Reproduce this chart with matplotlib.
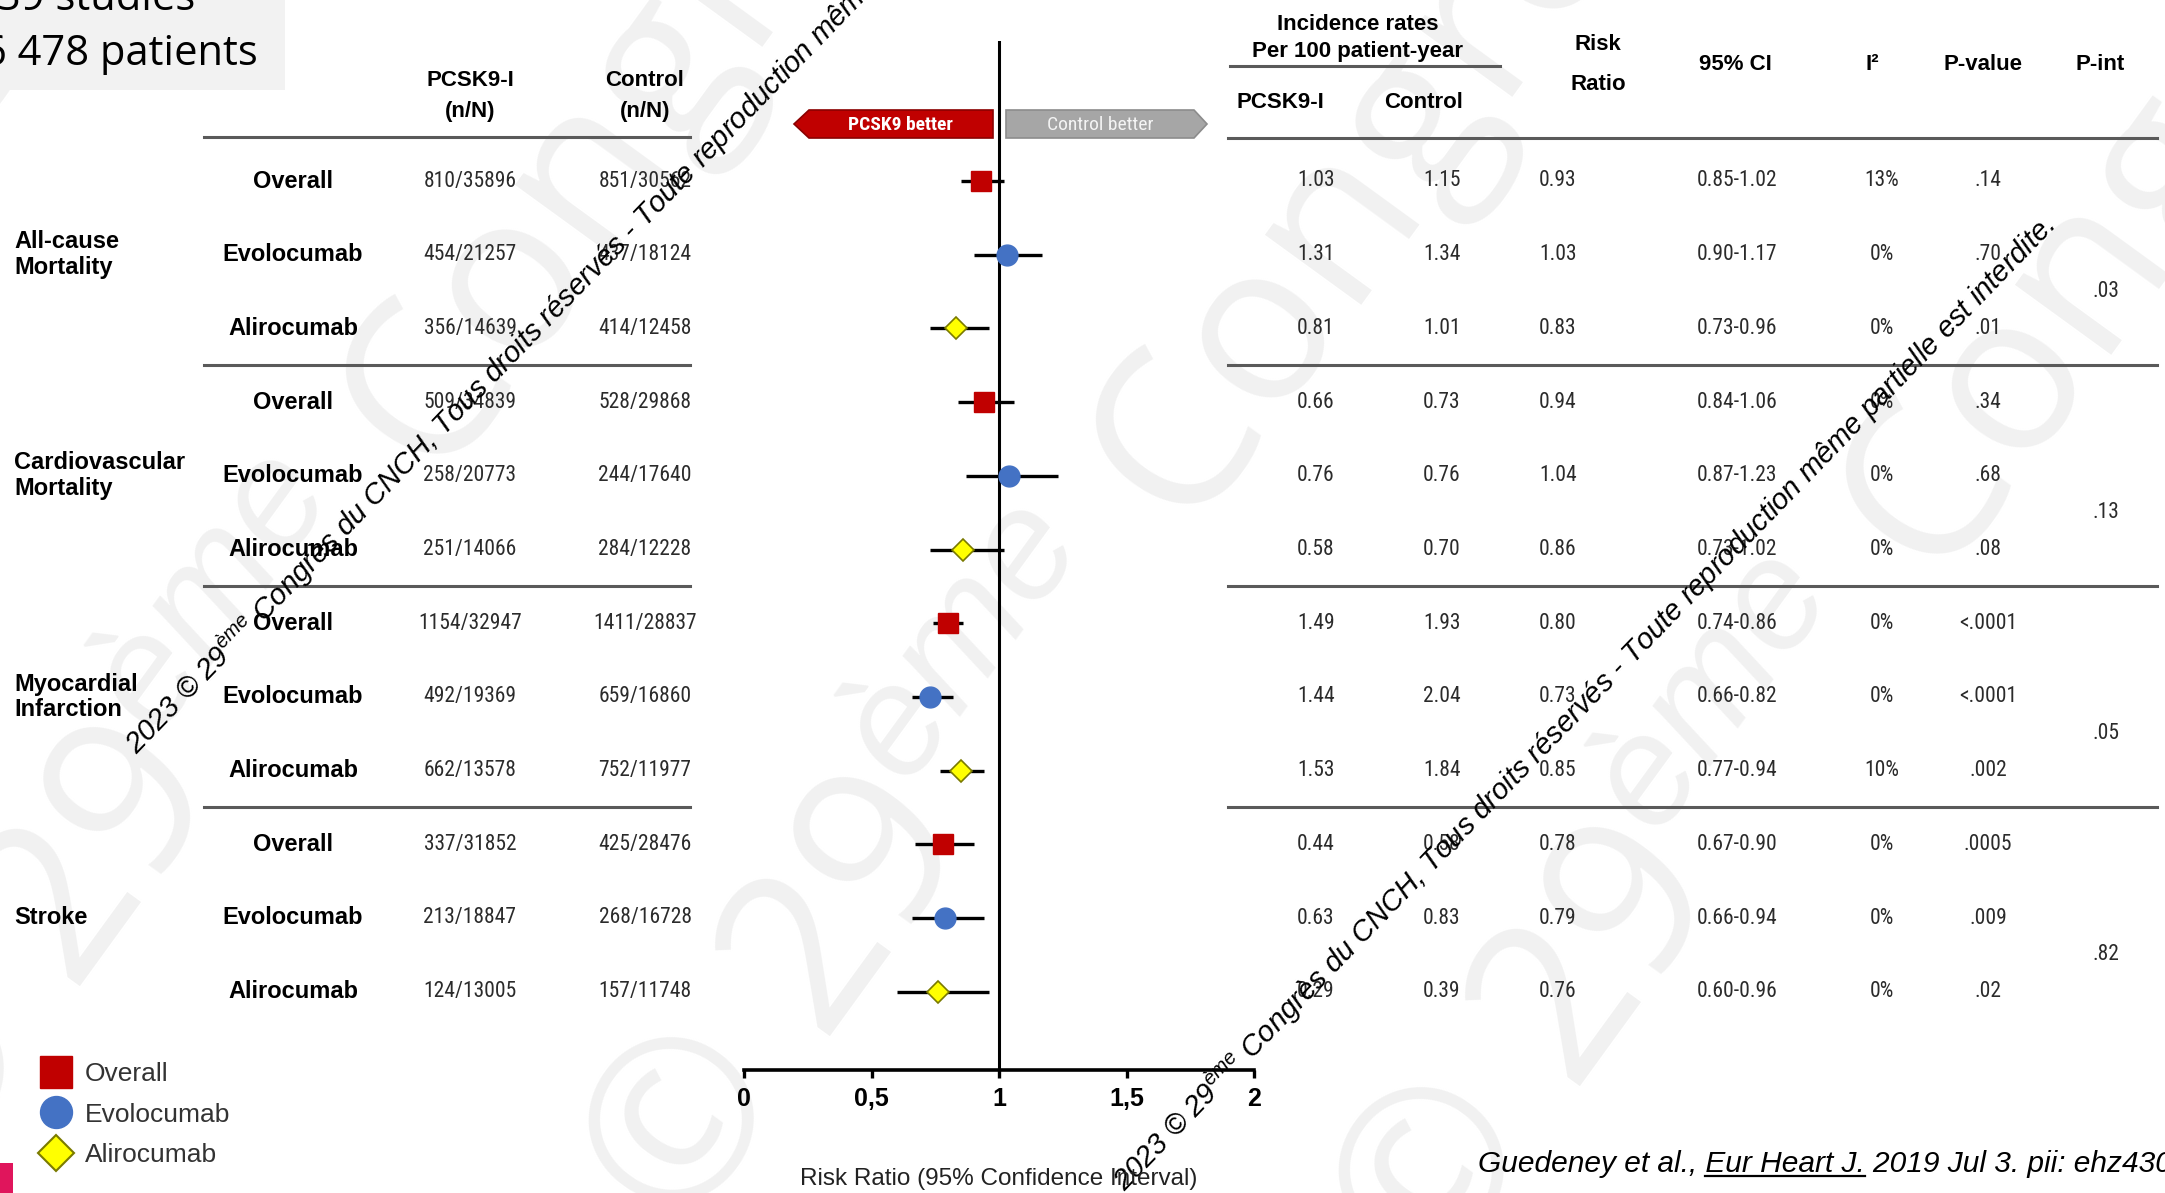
import matplotlib
matplotlib.use("Agg")
import matplotlib.pyplot as plt
from matplotlib import font_manager
from matplotlib.font_manager import FontProperties
from matplotlib.lines import Line2D
from matplotlib.patches import Polygon, Rectangle

# ---- data -------------------------------------------------------------
groups = ["All-cause\nMortality", "Cardiovascular\nMortality",
          "Myocardial\nInfarction", "Stroke"]
drugs = ["Overall", "Evolocumab", "Alirocumab"]

pcsk9_nN = ["810/35896", "454/21257", "356/14639",
            "509/34839", "258/20773", "251/14066",
            "1154/32947", "492/19369", "662/13578",
            "337/31852", "213/18847", "124/13005"]
control_nN = ["851/30562", "437/18124", "414/12458",
              "528/29868", "244/17640", "284/12228",
              "1411/28837", "659/16860", "752/11977",
              "425/28476", "268/16728", "157/11748"]
rate_pcsk9 = [1.03, 1.31, 0.81, 0.66, 0.76, 0.58, 1.49, 1.44, 1.53, 0.44, 0.63, 0.29]
rate_control = [1.15, 1.34, 1.01, 0.73, 0.76, 0.70, 1.93, 2.04, 1.84, 0.58, 0.83, 0.39]
rr = [0.93, 1.03, 0.83, 0.94, 1.04, 0.86, 0.80, 0.73, 0.85, 0.78, 0.79, 0.76]
ci_lo = [0.85, 0.90, 0.73, 0.84, 0.87, 0.73, 0.74, 0.66, 0.77, 0.67, 0.66, 0.60]
ci_hi = [1.02, 1.17, 0.96, 1.06, 1.23, 1.02, 0.86, 0.82, 0.94, 0.90, 0.94, 0.96]
i2 = ["13%", "0%", "0%", "0%", "0%", "0%", "0%", "0%", "10%", "0%", "0%", "0%"]
p_value = [".14", ".70", ".01", ".34", ".68", ".08",
           "<.0001", "<.0001", ".002", ".0005", ".009", ".02"]
p_int = [".03", ".13", ".05", ".82"]

xticks = [0, 0.5, 1, 1.5, 2]
xticklabels = ["0", "0,5", "1", "1,5", "2"]

# ---- fonts ------------------------------------------------------------
SANS = "Liberation Sans"
available = {f.name for f in font_manager.fontManager.ttflist}
NARROW, NUM_SIZE = SANS, 15
for name, size in [("Liberation Sans Narrow", 17), ("Roboto Condensed", 15.5),
                   ("Open Sans Condensed", 15.5)]:
    if name in available:
        NARROW, NUM_SIZE = name, size
        break

plt.rcParams["font.family"] = [SANS, "DejaVu Sans"]
plt.rcParams["mathtext.fontset"] = "custom"
plt.rcParams["mathtext.it"] = "Liberation Sans:italic"
plt.rcParams["mathtext.rm"] = "Liberation Sans"

RED = "#C00000"
BLUE = "#4472C4"
YELLOW = "#FFFF00"
NUM_COLOR = "#2b2b2b"
RULE = "#5a5a5a"

W, H = 2165, 1193
ROW0, ROWH = 181, 73.7          # pixel row of first line and row pitch


def row_px(i):
    return ROW0 + ROWH * i


fig = plt.figure(figsize=(W / 100, H / 100), dpi=100)
fig.patch.set_facecolor("white")

# page-wide axes in pixel units for the table and decorations
bg = fig.add_axes([0, 0, 1, 1], zorder=1)
bg.set_xlim(0, W)
bg.set_ylim(H, 0)
bg.axis("off")
bg.patch.set_alpha(0)

# faint background watermark
wm = ("2023 © 29$^{\\mathit{ème}}$ Congrès du CNCH, Tous droits réservés - "
      "Toute reproduction même partielle est interdite.")
for x0, y0 in [(-1900, 1550), (-1150, 1600), (-400, 1650), (350, 1700), (1100, 1750)]:
    bg.text(x0, y0, wm, fontsize=160, color="#F1F1F1", rotation=54,
            rotation_mode="anchor", ha="left", va="baseline", zorder=0,
            family="Open Sans")

# top-left summary box
bg.add_patch(Rectangle((0, 0), 285, 90, facecolor="#F2F2F2", edgecolor="none", zorder=1))
bg.text(195, 10, "39 studies", fontsize=30, family="Open Sans", ha="right",
        va="baseline", zorder=2)
bg.text(258, 65, "66 478 patients", fontsize=30, family="Open Sans", ha="right",
        va="baseline", zorder=2)

# left table
COL_DRUG, COL_P, COL_C = 293, 470, 645
hdr_kw = dict(fontsize=16, fontweight="bold", ha="center", va="center")
bg.text(COL_P, 80, "PCSK9-I", **hdr_kw)
bg.text(COL_P, 111, "(n/N)", **hdr_kw)
bg.text(COL_C, 80, "Control", **hdr_kw)
bg.text(COL_C, 111, "(n/N)", **hdr_kw)
bg.plot([204, 690], [137, 137], color=RULE, lw=2.2)

# right table
COLS = [1316, 1442, 1558, 1737, 1882, 1988, 2106]
bg.text(1358, 25, "Incidence rates", **hdr_kw)
bg.text(1358, 52, "Per 100 patient-year", **hdr_kw)
bg.plot([1230, 1500], [66, 66], color=RULE, lw=2.2)
bg.text(1280, 103, "PCSK9-I", **hdr_kw)
bg.text(1424, 103, "Control", **hdr_kw)
bg.text(1598, 45, "Risk", **hdr_kw)
bg.text(1598, 84, "Ratio", **hdr_kw)
bg.text(1735, 64, "95% CI", **hdr_kw)
bg.text(1872, 64, "I²", **hdr_kw)
bg.text(1983, 64, "P-value", **hdr_kw)
bg.text(2100, 64, "P-int", **hdr_kw)
bg.plot([1228, 2157], [138, 138], color=RULE, lw=2.2)

num_kw = dict(fontsize=NUM_SIZE, family=NARROW, color=NUM_COLOR, ha="center", va="center")
for i in range(len(rr)):
    y = row_px(i)
    bg.text(COL_DRUG, y, drugs[i % 3], fontsize=17, fontweight="bold", ha="center", va="center")
    bg.text(COL_P, y, pcsk9_nN[i], **num_kw)
    bg.text(COL_C, y, control_nN[i], **num_kw)
    row_vals = [f"{rate_pcsk9[i]:.2f}", f"{rate_control[i]:.2f}", f"{rr[i]:.2f}",
                f"{ci_lo[i]:.2f}-{ci_hi[i]:.2f}", i2[i], p_value[i]]
    for x, s in zip(COLS, row_vals):
        bg.text(x, y, s, **num_kw)

for g, name in enumerate(groups):
    bg.text(14, row_px(3 * g + 1), name, fontsize=17, fontweight="bold",
            ha="left", va="center", linespacing=1.15)
    bg.text(COLS[6], (row_px(3 * g + 1) + row_px(3 * g + 2)) / 2, p_int[g], **num_kw)
    if g < len(groups) - 1:
        yr = (row_px(3 * g + 2) + row_px(3 * g + 3)) / 2
        bg.plot([204, 690], [yr, yr], color=RULE, lw=2.2)
        bg.plot([1228, 2157], [yr, yr], color=RULE, lw=2.2)

# direction banners
bg.add_patch(Polygon([(794, 124), (809, 110), (993, 110), (993, 138), (809, 138)],
                     closed=True, facecolor=RED, edgecolor="#8a0000", lw=1.2, zorder=2))
bg.add_patch(Polygon([(1006, 110), (1194, 110), (1207, 124), (1194, 138), (1006, 138)],
                     closed=True, facecolor="#A6A6A6", edgecolor="#8c8c8c", lw=1.2, zorder=2))
bg.text(900, 125, "PCSK9 better", fontsize=14, family=NARROW, fontweight="bold",
        color="white", ha="center", va="center", zorder=3)
bg.text(1100, 125, "Control better", fontsize=14, family=NARROW,
        color="#F4F4F4", ha="center", va="center", zorder=3)

# ---- forest plot ------------------------------------------------------
AX_TOP, AX_BOT, AX_L, AX_R = 41, 1070, 744, 1254
ax = fig.add_axes([AX_L / W, 1 - AX_BOT / H, (AX_R - AX_L) / W, (AX_BOT - AX_TOP) / H], zorder=2)
ax.patch.set_alpha(0)
ax.set_xlim(0, 2)
ax.set_ylim((AX_BOT - ROW0) / ROWH, (AX_TOP - ROW0) / ROWH)
for side in ["top", "right", "left"]:
    ax.spines[side].set_visible(False)
ax.spines["bottom"].set_linewidth(2.6)
ax.set_yticks([])
ax.set_xticks(xticks)
ax.set_xticklabels(xticklabels, fontsize=18, fontweight="bold")
ax.tick_params(axis="x", length=6, width=2.4, pad=6)
ax.axvline(1, color="black", lw=2.2, zorder=2)

marker_style = [
    dict(marker="s", markersize=15, markerfacecolor=RED, markeredgecolor=RED),
    dict(marker="o", markersize=15, markerfacecolor=BLUE, markeredgecolor=BLUE),
    dict(marker="D", markersize=11, markerfacecolor=YELLOW, markeredgecolor="#7a7a00",
         markeredgewidth=1.2),
]
for i in range(len(rr)):
    ax.plot([ci_lo[i], ci_hi[i]], [i, i], color="black", lw=2.4,
            solid_capstyle="butt", zorder=3)
    ax.plot([rr[i]], [i], linestyle="none", zorder=4, **marker_style[i % 3])

ax.set_xlabel("Risk Ratio (95% Confidence Interval)", fontsize=17.5, color="#222222",
              labelpad=41)

# legend
handles = [Line2D([], [], linestyle="none", marker="s", markersize=23, color=RED),
           Line2D([], [], linestyle="none", marker="o", markersize=23, color=BLUE),
           Line2D([], [], linestyle="none", marker="D", markersize=18,
                  markerfacecolor=YELLOW, markeredgecolor="#7a7a00", markeredgewidth=1.5)]
leg = fig.legend(handles, drugs, loc="upper left", bbox_to_anchor=(40 / W, 1 - 1062 / H),
                 frameon=False, fontsize=19, labelspacing=0.63, handletextpad=0.5,
                 handlelength=1.2, borderpad=0, borderaxespad=0)
for t in leg.get_texts():
    t.set_color("#333333")

bg.add_patch(Rectangle((0, 1163), 13, 30, facecolor="#E0155C", edgecolor="none", zorder=3))

# citation, with the journal name underlined
cite = "Guedeney et al., Eur Heart J. 2019 Jul 3. pii: ehz430"
cx, cy = 1478, 1172
bg.text(cx, cy, cite, fontsize=21.5, style="italic", ha="left", va="baseline", zorder=3)
renderer = fig.canvas.get_renderer()
cprop = FontProperties(family=SANS, style="italic", size=21.5)


def text_w(s):
    return renderer.get_text_width_height_descent(s, cprop, ismath=False)[0]


u0 = cx + text_w("Guedeney et al., E") - text_w("E")
u1 = cx + text_w("Guedeney et al., Eur Heart J.")
bg.plot([u0, u1], [cy + 4, cy + 4], color="black", lw=1.6, zorder=3)

# small diagonal copyright lines
wm_kw = dict(fontsize=21, style="italic", color="black",
             rotation_mode="anchor", ha="left", va="baseline", zorder=5)
bg.text(137, 755, wm, rotation=46, **wm_kw)
bg.text(1125, 1192, wm, rotation=46, **wm_kw)

fig.savefig("out.png", dpi=100)
